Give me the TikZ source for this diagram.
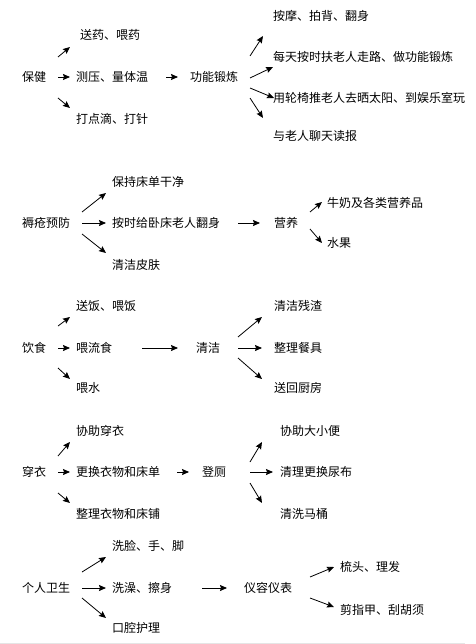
\documentclass[tikz,border=0pt]{standalone}
\usepackage{fontspec}
\setmainfont{Noto Sans CJK SC}
\usetikzlibrary{arrows.meta}
\begin{document}
\begin{tikzpicture}[x=1pt,y=-1pt,
  lbl/.style={anchor=west,inner sep=0pt,text height=10pt,text depth=1pt,font=\fontsize{12}{14}\selectfont},
  arr/.style={line width=0.8pt,-{Stealth[length=7pt,width=6pt,inset=1pt]}}]
\useasboundingbox (0,0) rectangle (475,644);
\fill[white] (0,0) rectangle (475,644);
\draw[black!10,line width=1pt] (0,643) -- (465,643);
% Section 1
\node[lbl] (bj) at (22,77) {保健};
\node[lbl] (s1a) at (80,35) {送药、喂药};
\node[lbl] (s1b) at (76,77) {测压、量体温};
\node[lbl] (s1c) at (76,119) {打点滴、打针};
\node[lbl] (gn) at (190,77) {功能锻炼};
\node[lbl] (g1) at (273,16) {按摩、拍背、翻身};
\node[lbl] (g2) at (273,57) {每天按时扶老人走路、做功能锻炼};
\node[lbl] (g3) at (273,98) {用轮椅推老人去晒太阳、到娱乐室玩};
\node[lbl] (g4) at (273,136) {与老人聊天读报};
\draw[arr] ([shift={(36,-20)}]bj.west) -- ([shift={(-10,12)}]s1a.west);
\draw[arr] ([shift={(36,0)}]bj.west) -- ([shift={(-6,0)}]s1b.west);
\draw[arr] ([shift={(36,21)}]bj.west) -- ([shift={(-6,-11)}]s1c.west);
\draw[arr] ([shift={(90,0)}]s1b.west) -- ([shift={(-12,0)}]gn.west);
\draw[arr] ([shift={(60,-21)}]gn.west) -- ([shift={(-10,20)}]g1.west);
\draw[arr] ([shift={(60,1)}]gn.west) -- ([shift={(0,10)}]g2.west);
\draw[arr] ([shift={(60,11)}]gn.west) -- ([shift={(1,0)}]g3.west);
\draw[arr] ([shift={(60,21)}]gn.west) -- ([shift={(-10,-18)}]g4.west);
% Section 2
\node[lbl] (rc) at (22,223) {褥疮预防};
\node[lbl] (r1) at (112,182) {保持床单干净};
\node[lbl] (r2) at (112,223) {按时给卧床老人翻身};
\node[lbl] (r3) at (112,265) {清洁皮肤};
\node[lbl] (yy) at (274,223) {营养};
\node[lbl] (y1) at (327,203) {牛奶及各类营养品};
\node[lbl] (y2) at (327,243) {水果};
\draw[arr] ([shift={(60,-11)}]rc.west) -- ([shift={(-6,11)}]r1.west);
\draw[arr] ([shift={(60,0)}]rc.west) -- ([shift={(-6,0)}]r2.west);
\draw[arr] ([shift={(60,11)}]rc.west) -- ([shift={(-6,-12)}]r3.west);
\draw[arr] ([shift={(126,0)}]r2.west) -- ([shift={(-14,0)}]yy.west);
\draw[arr] ([shift={(36,-11)}]yy.west) -- ([shift={(-5,-1)}]y1.west);
\draw[arr] ([shift={(36,6)}]yy.west) -- ([shift={(-5,0)}]y2.west);
% Section 3
\node[lbl] (ys) at (22,348) {饮食};
\node[lbl] (f1) at (76,306) {送饭、喂饭};
\node[lbl] (f2) at (76,348) {喂流食};
\node[lbl] (f3) at (76,388) {喂水};
\node[lbl] (qj) at (196,348) {清洁};
\node[lbl] (q1) at (274,306) {清洁残渣};
\node[lbl] (q2) at (274,348) {整理餐具};
\node[lbl] (q3) at (274,388) {送回厨房};
\draw[arr] ([shift={(36,-22)}]ys.west) -- ([shift={(-6,11)}]f1.west);
\draw[arr] ([shift={(36,0)}]ys.west) -- ([shift={(-6,0)}]f2.west);
\draw[arr] ([shift={(36,20)}]ys.west) -- ([shift={(-6,-9)}]f3.west);
\draw[arr] ([shift={(66,0)}]f2.west) -- ([shift={(-18,0)}]qj.west);
\draw[arr] ([shift={(42,-11)}]qj.west) -- ([shift={(-12,11)}]q1.west);
\draw[arr] ([shift={(42,0)}]qj.west) -- ([shift={(-12,0)}]q2.west);
\draw[arr] ([shift={(42,10)}]qj.west) -- ([shift={(-12,-9)}]q3.west);
% Section 4
\node[lbl] (cy) at (22,472) {穿衣};
\node[lbl] (c1) at (76,431) {协助穿衣};
\node[lbl] (c2) at (76,472) {更换衣物和床单};
\node[lbl] (c3) at (76,514) {整理衣物和床铺};
\node[lbl] (dc) at (202,472) {登厕};
\node[lbl] (d1) at (280,431) {协助大小便};
\node[lbl] (d2) at (280,472) {清理更换尿布};
\node[lbl] (d3) at (280,514) {清洗马桶};
\draw[arr] ([shift={(36,-16)}]cy.west) -- ([shift={(-6,11)}]c1.west);
\draw[arr] ([shift={(36,0)}]cy.west) -- ([shift={(-6,0)}]c2.west);
\draw[arr] ([shift={(36,21)}]cy.west) -- ([shift={(-6,-11)}]c3.west);
\draw[arr] ([shift={(101,0)}]c2.west) -- ([shift={(-13,0)}]dc.west);
\draw[arr] ([shift={(48,-10)}]dc.west) -- ([shift={(-18,11)}]d1.west);
\draw[arr] ([shift={(48,0)}]dc.west) -- ([shift={(-7,0)}]d2.west);
\draw[arr] ([shift={(48,11)}]dc.west) -- ([shift={(-18,-11)}]d3.west);
% Section 5
\node[lbl] (gr) at (22,588) {个人卫生};
\node[lbl] (w1) at (112,546) {洗脸、手、脚};
\node[lbl] (w2) at (112,588) {洗澡、擦身};
\node[lbl] (w3) at (112,628) {口腔护理};
\node[lbl] (yr) at (244,588) {仪容仪表};
\node[lbl] (z1) at (340,567) {梳头、理发};
\node[lbl] (z2) at (340,610) {剪指甲、刮胡须};
\draw[arr] ([shift={(60,-16)}]gr.west) -- ([shift={(-6,11)}]w1.west);
\draw[arr] ([shift={(60,0)}]gr.west) -- ([shift={(-6,0)}]w2.west);
\draw[arr] ([shift={(60,10)}]gr.west) -- ([shift={(-6,-10)}]w3.west);
\draw[arr] ([shift={(90,0)}]w2.west) -- ([shift={(-17,0)}]yr.west);
\draw[arr] ([shift={(66,-11)}]yr.west) -- ([shift={(-6,0)}]z1.west);
\draw[arr] ([shift={(66,10)}]yr.west) -- ([shift={(-6,-3)}]z2.west);
\end{tikzpicture}
\end{document}
